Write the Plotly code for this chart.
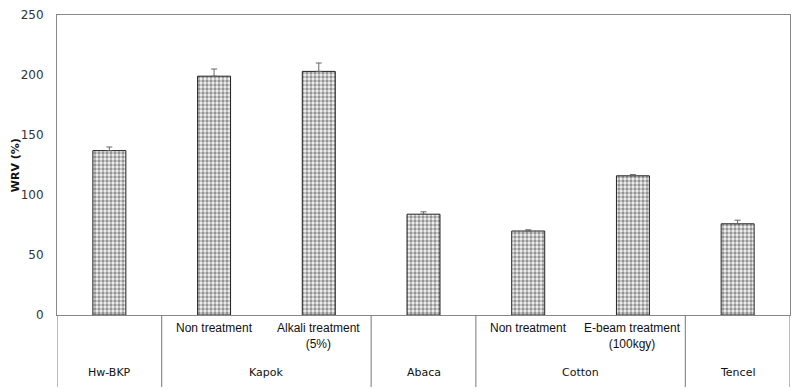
import plotly.graph_objects as go

groups = ["Hw-BKP", "Kapok", "Kapok", "Abaca", "Cotton", "Cotton", "Tencel"]
subs = ["", "Non treatment", "Alkali treatment<br>(5%)", "", "Non treatment", "E-beam treatment<br>(100kgy)", ""]
wrv = [137, 199, 203, 84, 70, 116, 76]
err = [3, 6, 7, 2, 1, 1, 3]
y_ticks = [0, 50, 100, 150, 200, 250]

x = list(range(len(wrv)))

fig = go.Figure()
fig.add_trace(go.Bar(
    x=x, y=wrv, width=0.315,
    marker=dict(color="white", line=dict(color="#222", width=1),
                pattern=dict(shape=".", fgcolor="#333", bgcolor="#f4f4f4", size=4, solidity=0.55)),
    error_y=dict(type="data", array=err, arrayminus=[0]*len(err), color="#666", thickness=1, width=3),
))

shapes = []
annotations = []
bounds = [-0.5]
for i in range(1, len(groups)):
    if groups[i] != groups[i-1]:
        bounds.append(i - 0.5)
bounds.append(len(groups) - 0.5)
for b in bounds:
    shapes.append(dict(type="line", xref="x", yref="paper", x0=b, x1=b, y0=0, y1=-0.24,
                       line=dict(color="#777", width=1)))
for a, b in zip(bounds[:-1], bounds[1:]):
    gi = int(a + 0.5)
    annotations.append(dict(x=(a + b) / 2, y=-0.19, xref="x", yref="paper", text=groups[gi],
                            showarrow=False, yanchor="middle",
                            font=dict(family="DejaVu Sans", size=11, color="#111")))
for i, s in enumerate(subs):
    if s:
        annotations.append(dict(x=i, y=-0.015, xref="x", yref="paper", text=s, showarrow=False,
                                yanchor="top", font=dict(family="Liberation Sans", size=12, color="#111")))
annotations.append(dict(x=-0.057, y=0.5, xref="paper", yref="paper", text="<b>WRV (%)</b>",
                        textangle=-90, showarrow=False, xanchor="center", yanchor="middle",
                        font=dict(family="DejaVu Sans", size=11, color="#111")))

fig.update_layout(
    width=800, height=390,
    margin=dict(l=57, r=10, t=15, b=75),
    plot_bgcolor="white", paper_bgcolor="white",
    showlegend=False,
    shapes=shapes, annotations=annotations,
    xaxis=dict(range=[-0.5, len(wrv) - 0.5], showticklabels=False, ticks="", showgrid=False,
               showline=True, linecolor="#888", linewidth=1, mirror=True, zeroline=False,
               automargin=False),
    yaxis=dict(range=[0, 250], tickvals=y_ticks, showgrid=False, ticks="",
               showline=True, linecolor="#888", linewidth=1, mirror=True, zeroline=False,
               automargin=False,
               tickfont=dict(family="DejaVu Sans", size=12, color="#333"), ticklabelstandoff=10),
)

fig.write_html("out.html", config={"displayModeBar": False},
               post_script="document.body.style.margin='0';")
